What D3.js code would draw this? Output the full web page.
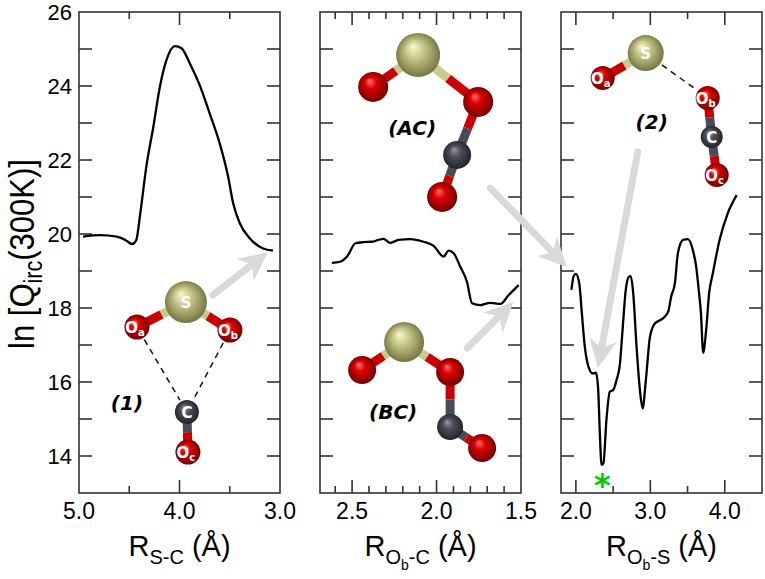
<!DOCTYPE html>
<html>
<head>
<meta charset="utf-8">
<script src="https://cdn.jsdelivr.net/npm/d3@7"></script>
<style>
  body { margin: 0; background: #fff; }
  svg { display: block; }
</style>
</head>
<body>
<div id="chart"></div>
<script>
// ---- data ----
// panel 1: ln Q vs R(S-C)
var xS_C = [4.96, 4.79, 4.625, 4.54, 4.47, 4.43, 4.39, 4.33, 4.26, 4.195, 4.13, 4.045, 3.98, 3.897, 3.80, 3.70, 3.60, 3.516, 3.466, 3.40, 3.30, 3.168, 3.07];
var yS_C = [19.93, 19.97, 19.93, 19.84, 19.73, 19.84, 20.56, 21.82, 22.9, 23.98, 24.70, 25.08, 25.02, 24.61, 24.03, 23.26, 22.45, 21.55, 20.83, 20.29, 19.88, 19.61, 19.55];

// panel 2: ln Q vs R(Ob-C)
var xOb_C = [2.62, 2.571, 2.53, 2.48, 2.433, 2.383, 2.344, 2.314, 2.275, 2.225, 2.156, 2.077, 2.017, 1.958, 1.929, 1.899, 1.86, 1.82, 1.79, 1.741, 1.682, 1.622, 1.573, 1.514];
var yOb_C = [19.22, 19.25, 19.39, 19.75, 19.78, 19.79, 19.84, 19.87, 19.76, 19.84, 19.86, 19.79, 19.68, 19.39, 19.55, 19.48, 19.12, 18.71, 18.13, 18.08, 18.14, 18.11, 18.35, 18.62];

// panel 3: ln Q vs R(Ob-S)
var xOb_S = [1.94, 1.97, 2.0, 2.045, 2.08, 2.12, 2.17, 2.227, 2.27, 2.30, 2.32, 2.345, 2.37, 2.41, 2.456, 2.50, 2.546, 2.59, 2.627, 2.67, 2.715, 2.736, 2.77, 2.815, 2.86, 2.896, 2.94, 2.995, 3.06, 3.17, 3.24, 3.28, 3.33, 3.37, 3.44, 3.505, 3.57, 3.616, 3.65, 3.68, 3.71, 3.75, 3.79, 3.84, 3.93, 4.04, 4.16];
var yOb_S = [18.49, 18.86, 18.92, 18.67, 17.86, 16.95, 16.41, 16.23, 16.25, 15.78, 14.70, 13.76, 13.80, 14.97, 15.74, 15.78, 16.05, 16.46, 17.41, 18.49, 18.85, 18.86, 18.40, 16.95, 15.78, 15.29, 16.05, 17.22, 17.58, 17.72, 17.90, 18.31, 18.67, 19.48, 19.84, 19.86, 19.57, 19.12, 18.49, 17.86, 16.79, 17.41, 18.40, 18.94, 19.84, 20.56, 21.05];

// minimum marker (green star) in panel 3
var starX = [2.355];
var starY = [13.3];

// tick values
var yTickLabels = [14, 16, 18, 20, 22, 24, 26];
var yTicks = d3.range(14, 26, 1);
var xTicks1 = [4.0], xMinor1 = [4.5, 3.5], xLabels1 = [5.0, 4.0, 3.0];
var xTicks2 = [2.5, 2.0], xMinor2 = [2.6, 2.4, 2.3, 2.2, 2.1, 1.9, 1.8, 1.7, 1.6], xLabels2 = [2.5, 2.0, 1.5];
var xTicks3 = [2.0, 3.0, 4.0], xMinor3 = [2.5, 3.5], xLabels3 = [2.0, 3.0, 4.0];

// ---- layout ----
var svgWidth = 765;
var svgHeight = 579;
var plotTop = 12, plotBottom = 493;

var svg = d3.select("#chart")
  .append("svg")
  .attr("width", svgWidth)
  .attr("height", svgHeight);

var defs = svg.append("defs");

var yScale = d3.scaleLinear().domain([13, 26]).range([plotBottom, plotTop]);

var panels = [
  { left: 79, right: 280, domain: [5, 3], xs: xS_C, ys: yS_C, major: xTicks1, minor: xMinor1, labels: xLabels1,
    title: [["R", 29, 0], ["S-C", 20, 8], [" (\u00C5)", 29, -8]] },
  { left: 320, right: 521, domain: [2.69, 1.5], xs: xOb_C, ys: yOb_C, major: xTicks2, minor: xMinor2, labels: xLabels2,
    title: [["R", 29, 0], ["O", 20, 8], ["b", 14, 6], ["-C", 20, -6], [" (\u00C5)", 29, -8]] },
  { left: 561, right: 762, domain: [1.8, 4.5], xs: xOb_S, ys: yOb_S, major: xTicks3, minor: xMinor3, labels: xLabels3,
    title: [["R", 29, 0], ["O", 20, 8], ["b", 14, 6], ["-S", 20, -6], [" (\u00C5)", 29, -8]] }
];

panels.forEach(function (p) {
  p.x = d3.scaleLinear().domain(p.domain).range([p.left, p.right]);
});

var tickCol = "#333";
var font = "'Liberation Sans', Arial, Helvetica, sans-serif";

panels.forEach(function (p, i) {
  var g = svg.append("g");
  var x = p.x;

  // frame
  g.append("rect")
    .attr("x", p.left).attr("y", plotTop)
    .attr("width", p.right - p.left).attr("height", plotBottom - plotTop)
    .attr("fill", "none").attr("stroke", tickCol).attr("stroke-width", 1.6);

  // x ticks (inward, top + bottom)
  function xt(vals, len) {
    vals.forEach(function (v) {
      g.append("line").attr("x1", x(v)).attr("x2", x(v))
        .attr("y1", plotBottom).attr("y2", plotBottom - len)
        .attr("stroke", tickCol).attr("stroke-width", 1.6);
      g.append("line").attr("x1", x(v)).attr("x2", x(v))
        .attr("y1", plotTop).attr("y2", plotTop + len)
        .attr("stroke", tickCol).attr("stroke-width", 1.6);
    });
  }
  xt(p.major, 13);
  xt(p.minor, 7);

  // y ticks (inward, left + right)
  yTicks.forEach(function (v) {
    g.append("line").attr("x1", p.left).attr("x2", p.left + 13)
      .attr("y1", yScale(v)).attr("y2", yScale(v))
      .attr("stroke", tickCol).attr("stroke-width", 1.6);
    g.append("line").attr("x1", p.right).attr("x2", p.right - 13)
      .attr("y1", yScale(v)).attr("y2", yScale(v))
      .attr("stroke", tickCol).attr("stroke-width", 1.6);
  });

  // x tick labels
  g.selectAll(".xl").data(p.labels).enter().append("text")
    .attr("x", function (d) { return x(d); })
    .attr("y", 519)
    .attr("text-anchor", "middle")
    .attr("font-family", font).attr("font-size", 23)
    .text(function (d) { return d3.format(".1f")(d); });

  // y tick labels only on first panel
  if (i === 0) {
    g.selectAll(".yl").data(yTickLabels).enter().append("text")
      .attr("x", 72)
      .attr("y", function (d) { return yScale(d) + 8; })
      .attr("text-anchor", "end")
      .attr("font-family", font).attr("font-size", 22)
      .text(function (d) { return d; });
  }

  // axis title with subscripts
  var t = g.append("text")
    .attr("x", (p.left + p.right) / 2)
    .attr("y", 556)
    .attr("text-anchor", "middle")
    .attr("font-family", font);
  p.title.forEach(function (s) {
    t.append("tspan").attr("font-size", s[1]).attr("dy", s[2]).text(s[0]);
  });

  // curve
  var line = d3.line()
    .x(function (d) { return x(d[0]); })
    .y(function (d) { return yScale(d[1]); })
    .curve(d3.curveMonotoneX);
  g.append("path")
    .datum(d3.zip(p.xs, p.ys))
    .attr("d", line)
    .attr("fill", "none")
    .attr("stroke", "#000")
    .attr("stroke-width", 2.3)
    .attr("stroke-linejoin", "round");
});

// y axis title (a little condensed, like the original)
var yt = svg.append("text")
  .attr("text-anchor", "middle")
  .attr("font-family", font)
  .attr("font-size", 36);
yt.append("tspan").text("ln [Q");
yt.append("tspan").attr("font-size", 25).attr("dy", 8).text("irc");
yt.append("tspan").attr("dy", -8).text("(300K)]");
var ytw = yt.node().getBBox().width;
yt.attr("transform", "translate(34,254) rotate(-90) scale(" + (190 / ytw) + ",1)");

// ---- molecule sketches ----
var atomStyle = {
  O: { hi: "#ff7070", base: "#dd0000", dark: "#6a0000" },
  S: { hi: "#f7f7d2", base: "#cbcb8c", dark: "#6b6b3c" },
  C: { hi: "#9a9aaa", base: "#50505e", dark: "#1e1e26" }
};
var bondCol = { O: "#cc0000", S: "#c9c98c", C: "#4b4b58" };

Object.keys(atomStyle).forEach(function (k) {
  var s = atomStyle[k];
  var gr = defs.append("radialGradient").attr("id", "g" + k)
    .attr("cx", "50%").attr("cy", "50%").attr("r", "55%")
    .attr("fx", "38%").attr("fy", "30%");
  gr.append("stop").attr("offset", "0%").attr("stop-color", s.hi);
  gr.append("stop").attr("offset", "35%").attr("stop-color", s.base);
  gr.append("stop").attr("offset", "100%").attr("stop-color", s.dark);
});

var molecules = [
  { panel: 0, ax: 3.936, ay: 18.16, label: "(1)", lab: [-59, 101],
    atoms: [["S", 0, 0, 21, "S", ""], ["O", -49, 25, 12.5, "O", "a"], ["O", 44, 28, 12.5, "O", "b"], ["C", 1, 110, 12, "C", ""], ["O", 2, 150, 12.5, "O", "c"]],
    bonds: [[0, 1], [0, 2], [3, 4]], dashes: [[1, 3], [2, 3]] },
  { panel: 1, ax: 2.109, ay: 24.84, label: "(AC)", lab: [-6, 73],
    atoms: [["S", 0, 0, 22, "", ""], ["O", -45, 32, 15, "", ""], ["O", 60, 47, 15, "", ""], ["C", 39, 100, 14, "", ""], ["O", 24, 142, 15, "", ""]],
    bonds: [[0, 1], [0, 2], [2, 3], [3, 4]], dashes: [] },
  { panel: 1, ax: 2.192, ay: 17.08, label: "(BC)", lab: [-11, 70],
    atoms: [["S", 0, 0, 20, "", ""], ["O", -42, 28, 14, "", ""], ["O", 46, 30, 14, "", ""], ["C", 46, 85, 13, "", ""], ["O", 78, 106, 14, "", ""]],
    bonds: [[0, 1], [0, 2], [2, 3], [3, 4]], dashes: [] },
  { panel: 2, ax: 2.938, ay: 24.89, label: "(2)", lab: [6, 69],
    atoms: [["S", 0, 0, 18, "S", ""], ["O", -43, 25, 12, "O", "a"], ["O", 62, 45, 12, "O", "b"], ["C", 66, 84, 11, "C", ""], ["O", 71, 122, 12, "O", "c"]],
    bonds: [[0, 1], [3, 2], [3, 4]], dashes: [[0, 2]] }
];

molecules.forEach(function (m) {
  var p = panels[m.panel];
  var ox = p.x(m.ax), oy = yScale(m.ay);
  var g = svg.append("g").attr("transform", "translate(" + ox + "," + oy + ")");

  // dashed contacts
  m.dashes.forEach(function (d) {
    var a = m.atoms[d[0]], b = m.atoms[d[1]];
    var dx = b[1] - a[1], dy = b[2] - a[2], L = Math.sqrt(dx * dx + dy * dy);
    var ux = dx / L, uy = dy / L;
    g.append("line")
      .attr("x1", a[1] + ux * (a[3] + 2)).attr("y1", a[2] + uy * (a[3] + 2))
      .attr("x2", b[1] - ux * (b[3] + 2)).attr("y2", b[2] - uy * (b[3] + 2))
      .attr("stroke", "#111").attr("stroke-width", 1.5)
      .attr("stroke-dasharray", "6,5");
  });

  // two-tone bonds
  m.bonds.forEach(function (d) {
    var a = m.atoms[d[0]], b = m.atoms[d[1]];
    var mx = (a[1] + b[1]) / 2, my = (a[2] + b[2]) / 2;
    [[a, mx, my], [b, mx, my]].forEach(function (h) {
      g.append("line").attr("x1", h[0][1]).attr("y1", h[0][2])
        .attr("x2", h[1]).attr("y2", h[2])
        .attr("stroke", bondCol[h[0][0]]).attr("stroke-width", 9);
    });
  });

  // atoms
  m.atoms.forEach(function (a) {
    g.append("circle").attr("cx", a[1]).attr("cy", a[2]).attr("r", a[3])
      .attr("fill", "url(#g" + a[0] + ")");
    if (a[4]) {
      var tx = g.append("text")
        .attr("x", a[1] + (a[5] ? -2 : 0)).attr("y", a[2] + 5.5)
        .attr("text-anchor", "middle")
        .attr("font-family", "'DejaVu Sans', sans-serif")
        .attr("font-weight", "bold")
        .attr("font-size", 15)
        .attr("fill", "#fff");
      tx.append("tspan").text(a[4]);
      if (a[5]) tx.append("tspan").attr("font-size", 10).attr("dy", 3).text(a[5]);
    }
  });

  g.append("text")
    .attr("x", m.lab[0]).attr("y", m.lab[1] + 7)
    .attr("text-anchor", "middle")
    .attr("font-family", "'DejaVu Sans', sans-serif")
    .attr("font-weight", "bold").attr("font-style", "italic")
    .attr("font-size", 20)
    .text(m.label);
});

// ---- grey arrows ----
var arrows = [
  { p0: 0, x0: 3.668, y0: 18.35, p1: 0, x1: 3.121, y1: 19.51 },
  { p0: 1, x0: 1.682, y0: 21.24, p1: 2, x1: 1.88, y1: 19.11 },
  { p0: 1, x0: 1.818, y0: 16.92, p1: 1, x1: 1.545, y1: 18.16 },
  { p0: 2, x0: 2.831, y0: 22.22, p1: 2, x1: 2.295, y1: 16.38 }
];
var arrowCol = "#d9d9d9";
arrows.forEach(function (a) {
  var X0 = panels[a.p0].x(a.x0), Y0 = yScale(a.y0);
  var X1 = panels[a.p1].x(a.x1), Y1 = yScale(a.y1);
  var dx = X1 - X0, dy = Y1 - Y0, L = Math.sqrt(dx * dx + dy * dy);
  var ux = dx / L, uy = dy / L, nx = -uy, ny = ux;
  var hl = 26, hw = 14;
  var bx = X1 - ux * hl, by = Y1 - uy * hl;
  svg.append("line")
    .attr("x1", X0).attr("y1", Y0).attr("x2", bx + ux * 4).attr("y2", by + uy * 4)
    .attr("stroke", arrowCol).attr("stroke-width", 7).attr("stroke-linecap", "round");
  svg.append("path")
    .attr("d", "M" + X1 + "," + Y1 +
      "L" + (bx + nx * hw - ux * 3) + "," + (by + ny * hw - uy * 3) +
      "L" + (bx + ux * 6) + "," + (by + uy * 6) +
      "L" + (bx - nx * hw - ux * 3) + "," + (by - ny * hw - uy * 3) + "Z")
    .attr("fill", arrowCol);
});

// green star marking the deepest minimum
svg.selectAll(".star").data(d3.zip(starX, starY)).enter().append("text")
  .attr("x", function (d) { return panels[2].x(d[0]); })
  .attr("y", function (d) { return yScale(d[1]) + 14; })
  .attr("text-anchor", "middle")
  .attr("font-family", "'DejaVu Sans', sans-serif")
  .attr("font-size", 32)
  .attr("font-weight", "bold")
  .attr("fill", "#00cc00")
  .text("*");
</script>
</body>
</html>
